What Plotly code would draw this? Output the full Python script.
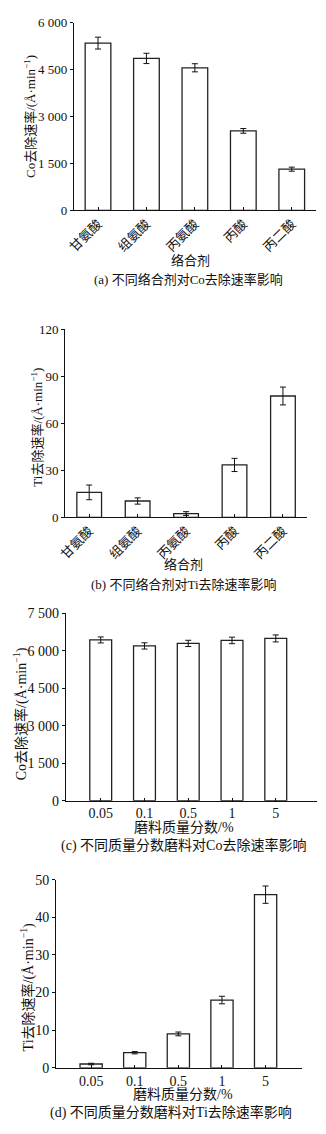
import plotly.graph_objects as go

W, H = 326, 1134

# ---------------- data ----------------
agents = ["甘氨酸", "组氨酸", "丙氨酸", "丙酸", "丙二酸"]
co_rate_agent = [5350, 4860, 4560, 2540, 1315]
co_err_agent = [190, 165, 130, 75, 65]
ti_rate_agent = [16.0, 10.5, 2.5, 33.5, 77.5]
ti_err_agent = [4.7, 2.0, 1.2, 4.2, 5.7]

abrasive = ["0.05", "0.1", "0.5", "1", "5"]
co_rate_abr = [6430, 6190, 6290, 6410, 6490]
co_err_abr = [120, 125, 125, 130, 140]
ti_rate_abr = [1.0, 4.0, 9.0, 18.0, 46.0]
ti_err_abr = [0.2, 0.3, 0.5, 1.0, 2.3]

ticks_a = [0, 1500, 3000, 4500, 6000]
ticklab_a = ["0", "1 500", "3 000", "4 500", "6 000"]
ticks_b = [0, 30, 60, 90, 120]
ticks_c = [0, 1500, 3000, 4500, 6000, 7500]
ticklab_c = ["0", "1 500", "3 000", "4 500", "6 000", "7 500"]
ticks_d = [0, 10, 20, 30, 40, 50]

ytitle_co = "Co去除速率/(Å·min<sup>−1</sup>)"
ytitle_ti = "Ti去除速率/(Å·min<sup>−1</sup>)"
xtitle_agent = "络合剂"
xtitle_abr = "磨料质量分数/%"
captions = ["(a) 不同络合剂对Co去除速率影响",
            "(b) 不同络合剂对Ti去除速率影响",
            "(c) 不同质量分数磨料对Co去除速率影响",
            "(d) 不同质量分数磨料对Ti去除速率影响"]

FONT = "Liberation Serif, Times New Roman, Noto Sans CJK SC, serif"


def px(x):
    return x / W


def py(y):
    return 1 - y / H


fig = go.Figure()

panels = [
    dict(cats=agents, vals=co_rate_agent, err=co_err_agent, width=0.53,
         xd=(68.25, 315.75), yd=(206, 16), xr=[-0.5, 4.5], yr=[0, 6000],
         tv=ticks_a, tt=ticklab_a, fs=13, angle=-45,
         ytitle=ytitle_co, yt_pos=(23, 111), xtitle=xtitle_agent, xt_pos=(188, 257),
         cap_pos=(185, 276)),
    dict(cats=agents, vals=ti_rate_agent, err=ti_err_agent, width=0.51,
         xd=(59.25, 306.75), yd=(517.3, 326.7), xr=[-0.5, 4.5], yr=[0, 120],
         tv=ticks_b, tt=[str(v) for v in ticks_b], fs=13, angle=-45,
         ytitle=ytitle_ti, yt_pos=(31, 426), xtitle=xtitle_agent, xt_pos=(180, 565),
         cap_pos=(181, 585)),
    dict(cats=abrasive, vals=co_rate_abr, err=co_err_abr, width=0.5,
         xd=(60, 316.7), yd=(804.3, 614.3), xr=[-0.8, 4.94], yr=[0, 7500],
         tv=ticks_c, tt=ticklab_c, fs=14, angle=0,
         ytitle=ytitle_co, yt_pos=(14, 716), xtitle=xtitle_abr, xt_pos=(181, 832),
         cap_pos=(180, 850)),
    dict(cats=abrasive, vals=ti_rate_abr, err=ti_err_abr, width=0.51,
         xd=(50, 301.7), yd=(1075, 884.3), xr=[-0.807, 4.84], yr=[0, 50],
         tv=ticks_d, tt=[str(v) for v in ticks_d], fs=14, angle=0,
         ytitle=ytitle_ti, yt_pos=(21, 993), xtitle=xtitle_abr, xt_pos=(180, 1102),
         cap_pos=(168, 1120)),
]

annotations = []
for i, p in enumerate(panels):
    n = "" if i == 0 else str(i + 1)
    fig.add_trace(go.Bar(
        x=p["cats"], y=p["vals"], width=p["width"],
        marker=dict(color="white", line=dict(color="#222", width=1.3)),
        error_y=dict(type="data", array=p["err"], visible=True,
                     color="#111", thickness=1, width=3),
        xaxis="x" + n, yaxis="y" + n, showlegend=False,
    ))
    axis_common = dict(showline=True, linecolor="#111", linewidth=1,
                       showgrid=False, zeroline=False, ticklen=3,
                       tickcolor="#111", tickwidth=1,
                       tickfont=dict(family=FONT, size=p["fs"], color="#111"))
    fig.layout["xaxis" + n] = dict(
        axis_common, domain=[px(p["xd"][0]), px(p["xd"][1])],
        anchor="y" + n, type="category", range=p["xr"],
        ticks="inside", tickangle=p["angle"], fixedrange=True)
    fig.layout["yaxis" + n] = dict(
        axis_common, domain=[py(p["yd"][0]), py(p["yd"][1])],
        anchor="x" + n, range=p["yr"], ticks="outside",
        tickvals=p["tv"], ticktext=p["tt"], fixedrange=True)
    annotations.append(dict(
        text=p["ytitle"], textangle=-90, xref="paper", yref="paper",
        x=px(p["yt_pos"][0]), y=py(p["yt_pos"][1]), xanchor="center",
        yanchor="middle", showarrow=False,
        font=dict(family=FONT, size=p["fs"], color="#111")))
    annotations.append(dict(
        text=p["xtitle"], xref="paper", yref="paper",
        x=px(p["xt_pos"][0]), y=py(p["xt_pos"][1]), xanchor="center",
        yanchor="middle", showarrow=False,
        font=dict(family=FONT, size=p["fs"], color="#111")))
    annotations.append(dict(
        text=captions[i], xref="paper", yref="paper",
        x=px(p["cap_pos"][0]), y=py(p["cap_pos"][1]), xanchor="center",
        yanchor="middle", showarrow=False,
        font=dict(family=FONT, size=p["fs"], color="#111")))

fig.update_layout(
    width=W, height=H, margin=dict(l=0, r=0, t=0, b=0),
    paper_bgcolor="white", plot_bgcolor="white",
    annotations=annotations, showlegend=False,
    font=dict(family=FONT, color="#111"),
)

fig.write_html("out.html", config={"displayModeBar": False})
